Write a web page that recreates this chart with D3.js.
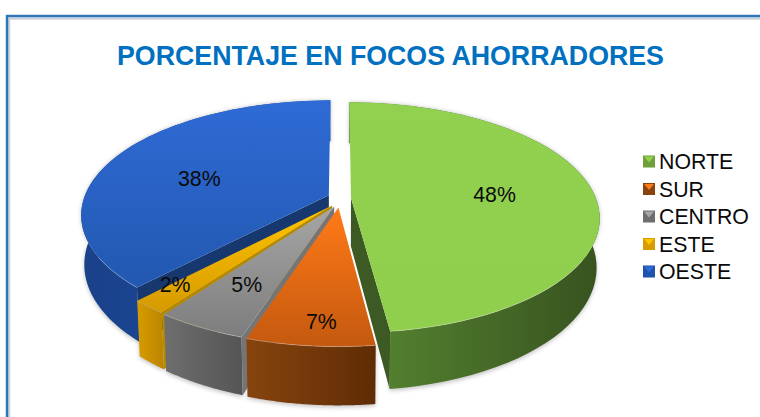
<!DOCTYPE html>
<html><head><meta charset="utf-8">
<script src="https://cdn.jsdelivr.net/npm/d3@7/dist/d3.min.js"></script>
<style>html,body{margin:0;padding:0;background:#fff}svg{display:block}text{font-family:"Liberation Sans",Arial,sans-serif}</style>
</head><body><svg id="c" width="760" height="417"></svg>
<script>
const categories = ["NORTE","SUR","CENTRO","ESTE","OESTE"];
const values = [48,7,5,2,38];
const labels = ["48%","7%","5%","2%","38%"];
const title = "PORCENTAJE EN FOCOS AHORRADORES";

const topColors  = [["#92d050","#90ce4e"],["#ff7a18","#c4590f"],["#a6a6a6","#7d7d7d"],["#ffc400","#d49a00"],["#2f6bd6","#2258b0"]];
const wallColors = [["#53802f","#37521f"],["#87440e","#5f2c05"],["#6e6e6e","#555555"],["#d69c00","#bb8400"],["#1a4189","#1f53ac"]];
const faceColors = ["#3e5a24","#6f3208","#757575","#b78a00","#17386f"];
const labelPos = [0.59,0.85,0.69,0.84,0.567];
const labelNudge = [1,-1.5,0,2.5,-6];

const svg = d3.select("#c");
const defs = svg.append("defs");
const CX=339.5, CY=198.5, RX=245, RY=112, K=0.17, DEPTH=48, EXU=0.047, EXV=0.08;

const x = d3.scaleLinear().domain([-1,1]).range([-RX,RX]);
const y = d3.scaleLinear().domain([-1,1]).range([-RY,RY]);
const persp = v => 1/(1-K*v);
const proj = (u,v,d=0) => {
  const p=persp(v), s=d?0.988:1;
  return [CX+x(u)*p*s, CY+y(v)*p+d*p];
};
const pie = d3.pie().sort(null).value(d=>d)(values);
const line = d3.line();
const polar=(a,r,o)=>[o[0]+r*Math.sin(a), o[1]-r*Math.cos(a)];
const arcPts=(a0,a1,o)=>d3.range(0,61).map(i=>polar(a0+(a1-a0)*i/60,1,o));

// frame
svg.append("rect").attr("x",9).attr("y",18.5).attr("width",760).attr("height",420).attr("fill","none").attr("stroke","#c9d3de").attr("stroke-width",2.5);
svg.append("rect").attr("x",7).attr("y",16).attr("width",760).attr("height",420).attr("fill","none").attr("stroke","#2e75b6").attr("stroke-width",2.4);

svg.append("text").attr("x",390.5).attr("y",64.5).attr("text-anchor","middle")
  .attr("font-size",26.75).attr("font-weight","bold").attr("fill","#0070c0").text(title);

defs.append("filter").attr("id","sh").attr("x","-10%").attr("y","-10%").attr("width","120%").attr("height","120%")
  .append("feGaussianBlur").attr("stdDeviation",2.2);

const grad=(id,cols,x1,y1,x2,y2)=>{
  const g=defs.append("linearGradient").attr("id",id).attr("gradientUnits","userSpaceOnUse")
    .attr("x1",x1).attr("y1",y1).attr("x2",x2).attr("y2",y2);
  g.append("stop").attr("offset",0).attr("stop-color",cols[0]);
  g.append("stop").attr("offset",1).attr("stop-color",cols[1]);
  return `url(#${id})`;
};

const slices = pie.map((s,i)=>{
  const mid=(s.startAngle+s.endAngle)/2;
  const o=[EXU*Math.sin(mid), -EXV*Math.cos(mid)];
  return {i,s,mid,o,arc:arcPts(s.startAngle,s.endAngle,o)};
});

// soft shadow under the walls
const shadow=svg.append("g").attr("filter","url(#sh)").attr("opacity",0.45);
slices.forEach(d=>{
  const b=d.arc.map(p=>proj(p[0],p[1],DEPTH+1.5));
  const t=d.arc.map(p=>proj(p[0],p[1],0)).reverse();
  shadow.append("path").attr("d",line(b.concat(t))+"Z").attr("fill","#777");
});

// paint order: back to front
[4,0,3,2,1].forEach(i=>{
  const d=slices[i], g=svg.append("g");
  const top=d.arc.map(p=>proj(p[0],p[1]));
  const bot=d.arc.map(p=>proj(p[0],p[1],DEPTH));
  const apex=proj(d.o[0],d.o[1]), apexB=proj(d.o[0],d.o[1],DEPTH);
  const xs=top.concat(bot).map(p=>p[0]), ys=top.concat([apex]).map(p=>p[1]);
  const [w0,w1]=d3.extent(xs);
  g.append("path").attr("d",line(top.concat(bot.slice().reverse()))+"Z")
    .attr("fill",grad("w"+i,wallColors[i],(i===0?385:w0),0,(i===0?600:w1),0));
  const face=(p0,p0b)=>g.append("path").attr("d",line([apex,p0,p0b,apexB])+"Z").attr("fill",faceColors[i]);
  if(d.s.startAngle>Math.PI) face(top[0],bot[0]);
  if(d.s.endAngle<=Math.PI) face(top[60],bot[60]);
  g.append("path").attr("d",line([apex].concat(top))+"Z")
    .attr("fill",grad("t"+i,topColors[i],0,d3.min(ys),0,d3.max(ys)));
  const rim=top.filter(p=>p[1]>apex[1]+60);
  if(rim.length>1) g.append("path").attr("d",line(rim)).attr("fill","none")
    .attr("stroke","#fff").attr("stroke-opacity",0.28).attr("stroke-width",1);
});

// labels
slices.forEach(d=>{
  const p=polar(d.mid+labelNudge[d.i]*Math.PI/180,labelPos[d.i],d.o), q=proj(p[0],p[1]);
  svg.append("text").attr("x",q[0]).attr("y",q[1]+7).attr("text-anchor","middle")
    .attr("font-size",21.3).attr("fill","#0a0a0a").text(labels[d.i]);
});

// legend
const ly=d3.scalePoint().domain(categories).range([161.5,271.5]);
const lg=svg.append("g");
categories.forEach((c,i)=>{
  const yy=ly(c);
  const m=lg.append("g").attr("transform",`translate(643,${yy-6})`);
  m.append("rect").attr("width",12).attr("height",12).attr("fill",i===0?"#6fa03c":wallColors[i][i===4?1:0]);
  m.append("path").attr("d","M1,1H11L6,7Z").attr("fill",topColors[i][0]);
  lg.append("text").attr("x",659).attr("y",yy+7.5).attr("font-size",21.3).attr("fill","#0a0a0a").text(c);
});
</script></body></html>
